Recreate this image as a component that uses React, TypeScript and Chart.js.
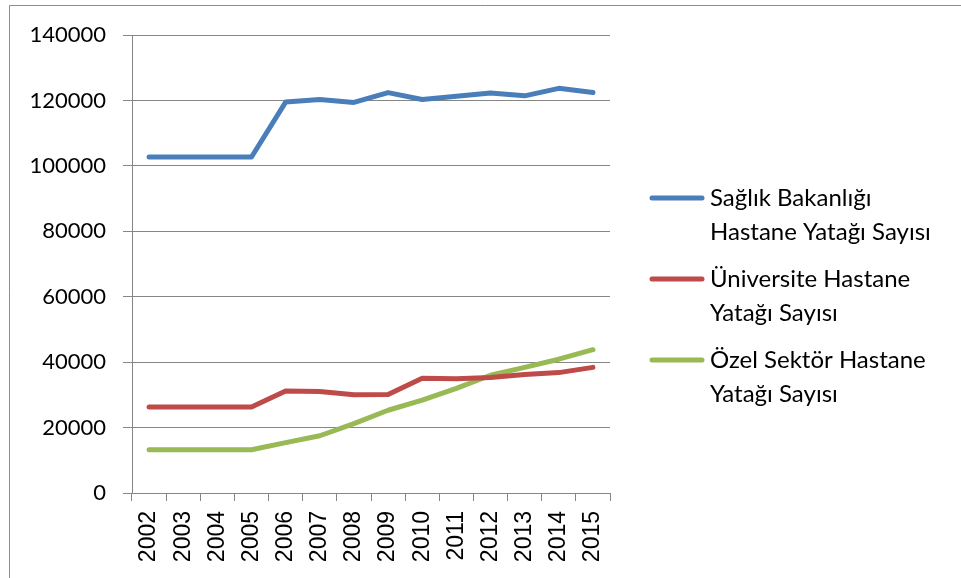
import React, { useEffect, useRef } from "react";
import { Chart, registerables } from "chart.js";

Chart.register(...registerables);

const years = ["2002","2003","2004","2005","2006","2007","2008","2009","2010","2011","2012","2013","2014","2015"];
const saglikBakanligi = [102700,102700,102700,102700,119500,120300,119400,122400,120300,121300,122300,121400,123700,122400];
const universite = [26300,26300,26300,26300,31200,31000,30000,30100,35100,34900,35300,36200,36800,38400];
const ozelSektor = [13200,13200,13200,13200,15400,17500,21200,25300,28400,32000,36000,38400,40900,43800];
const seriesLabels = [
  ["Sağlık Bakanlığı", "Hastane Yatağı Sayısı"],
  ["Üniversite Hastane", "Yatağı Sayısı"],
  ["Özel Sektör Hastane", "Yatağı Sayısı"],
];
const colors = ["#4A7EBB", "#BE4B48", "#98B954"];

const legendFont = "24px Lato";

const customLegend = {
  id: "customLegend",
  afterDraw(chart: any) {
    const ctx = chart.ctx;
    ctx.save();
    // outer border
    ctx.strokeStyle = "#8c8c8c";
    ctx.lineWidth = 1;
    ctx.beginPath();
    ctx.moveTo(9.5, 600);
    ctx.lineTo(9.5, 5.5);
    ctx.lineTo(1000, 5.5);
    ctx.stroke();

    const startY = 198;
    const entryGap = 81;
    const lineGap = 34;
    ctx.font = legendFont;
    ctx.textBaseline = "middle";
    ctx.textAlign = "left";
    chart.data.datasets.forEach((ds: any, i: number) => {
      const y = startY + i * entryGap;
      ctx.strokeStyle = ds.borderColor;
      ctx.lineWidth = 5;
      ctx.lineCap = "round";
      ctx.beginPath();
      ctx.moveTo(652, y);
      ctx.lineTo(702, y);
      ctx.stroke();
      ctx.fillStyle = "#000";
      const lines: string[] = seriesLabels[i];
      lines.forEach((t, j) => ctx.fillText(t, 710, y + j * lineGap));
    });
    ctx.restore();
  },
};

export default function App() {
  const ref = useRef<HTMLCanvasElement | null>(null);
  useEffect(() => {
    if (!ref.current) return;
    const chart = new Chart(ref.current, {
      type: "line",
      data: {
        labels: years,
        datasets: [
          { label: seriesLabels[0].join(" "), data: saglikBakanligi, borderColor: colors[0], backgroundColor: colors[0] },
          { label: seriesLabels[1].join(" "), data: universite, borderColor: colors[1], backgroundColor: colors[1] },
          { label: seriesLabels[2].join(" "), data: ozelSektor, borderColor: colors[2], backgroundColor: colors[2] },
        ].map((d) => ({ ...d, borderWidth: 5, pointRadius: 0, tension: 0, borderCapStyle: "round" as const, borderJoinStyle: "round" as const })),
      },
      options: {
        responsive: false,
        animation: false,
        events: [],
        layout: { padding: { top: 35, right: 351, left: 0, bottom: 0 } },
        plugins: { legend: { display: false }, tooltip: { enabled: false } },
        scales: {
          x: {
            offset: true,
            grid: { display: true, drawOnChartArea: false, offset: true, tickLength: 8, color: "#868686" },
            border: { color: "#868686" },
            ticks: {
              minRotation: 90,
              maxRotation: 90,
              padding: 10,
              color: "#000",
              font: { family: "Liberation Sans", size: 23 },
            },
            afterFit(scale: any) { scale.height = 85; },
          },
          y: {
            min: 0,
            max: 140000,
            grid: { color: "#868686", tickLength: 9 },
            border: { color: "#868686" },
            ticks: {
              stepSize: 20000,
              padding: 17,
              color: "#000",
              font: { family: "Lato", size: 22 },
              callback: (v: any) => String(v),
            },
            afterFit(scale: any) { scale.width = 132; },
          },
        },
      },
      plugins: [customLegend],
    });
    return () => chart.destroy();
  }, []);
  return (
    <div style={{ position: "fixed", left: 0, top: 0, width: 961, height: 578, background: "#fff" }}>
      <canvas ref={ref} width={961} height={578} style={{ display: "block" }} />
    </div>
  );
}
